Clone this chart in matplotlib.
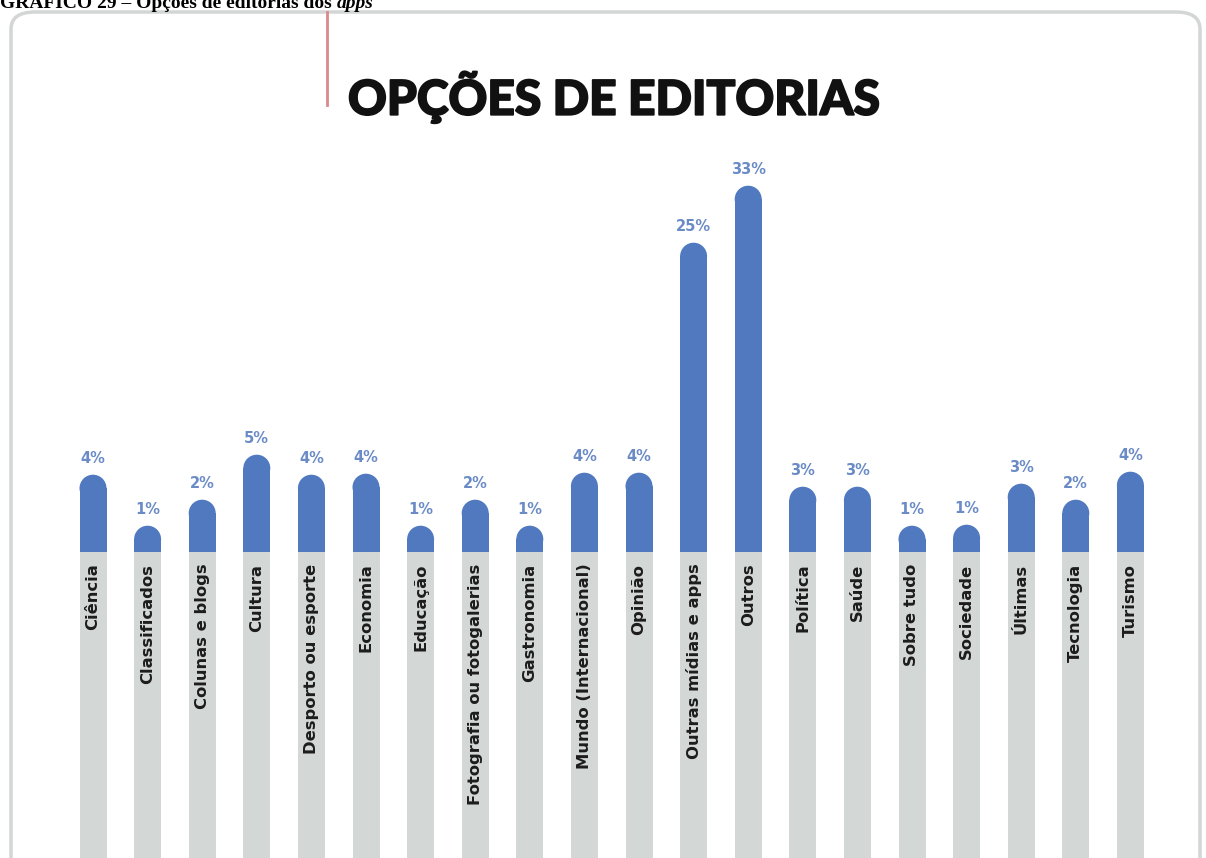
import matplotlib.pyplot as plt
import matplotlib.patheffects as pe
from matplotlib.patches import Ellipse, FancyBboxPatch

# dados
categorias = ['Ciência', 'Classificados', 'Colunas e blogs', 'Cultura',
              'Desporto ou esporte', 'Economia', 'Educação',
              'Fotografia ou fotogalerias', 'Gastronomia',
              'Mundo (Internacional)', 'Opinião', 'Outras mídias e apps',
              'Outros', 'Política', 'Saúde', 'Sobre tudo', 'Sociedade',
              'Últimas', 'Tecnologia', 'Turismo']
percentuais = [4, 1, 2, 5, 4, 4, 1, 2, 1, 4, 4, 25, 33, 3, 3, 1, 1, 3, 2, 4]
# comprimento desenhado de cada barra azul (a escala do infográfico não é linear)
comprimentos = [77, 26, 52, 97, 77, 78, 26, 52, 26, 79, 79, 309, 366,
                65, 65, 26, 27, 68, 52, 80]

azul = '#5179c0'
azul_txt = '#6a8bc6'
cinza = '#d3d8d6'

W, H = 1206, 858
fig = plt.figure(figsize=(W / 100, H / 100), dpi=100)
fig.patch.set_facecolor('white')

# moldura arredondada
moldura = FancyBboxPatch((11 / W, -0.05), 1189 / W, (H - 12) / H + 0.05,
                         boxstyle='round,pad=0,rounding_size=0.02',
                         transform=fig.transFigure, facecolor='none',
                         edgecolor='#d3d6d5', linewidth=2.5, zorder=0)
fig.patches.append(moldura)

# legenda do documento, cortada no topo
leg = fig.text(0, (H - 8) / H, 'GRÁFICO 29 – Opções de editorias dos ',
               family='Liberation Serif', weight='bold', fontsize=14,
               va='baseline', ha='left')
fig.canvas.draw()
bb = leg.get_window_extent()
fig.text(bb.x1 / W, (H - 8) / H, 'apps', family='Liberation Serif',
         weight='bold', style='italic', fontsize=14, va='baseline', ha='left')

# linha vermelha e título
fig.add_artist(plt.Line2D([327 / W, 327 / W], [(H - 105) / H, (H - 12) / H],
                          color='#d98a8a', linewidth=2, transform=fig.transFigure))
fig.text(348 / W, (H - 97) / H, 'OPÇÕES DE EDITORIAS', family='Lato',
         weight='black', fontsize=34.5, va='center', ha='left', color='#111111',
         path_effects=[pe.withStroke(linewidth=1.3, foreground='#111111')])

ax = fig.add_axes([0, 0, 1, 1])
ax.set_facecolor('none')
passo = 54.6
base = 551.7
ax.set_xlim(-93 / passo, (W - 93) / passo)
ax.set_ylim(-(H - base), base)
ax.axis('off')

x = list(range(len(categorias)))
larg = 27 / passo
raio = 13.5

# parte cinza com os nomes
ax.bar(x, [-(H - base) - 10] * len(x), width=larg, color=cinza, zorder=4)
for i, nome in enumerate(categorias):
    ax.text(i, -12, nome, rotation=90, ha='center', va='top',
            family='DejaVu Sans', weight='bold', fontsize=11.8,
            color='#1c1c1c', zorder=5)

# parte azul com topo arredondado
ax.bar(x, [c - raio for c in comprimentos], width=larg, color=azul, zorder=3)
for i, c in enumerate(comprimentos):
    ax.add_patch(Ellipse((i, c - raio), larg, 2 * raio, color=azul, zorder=3,
                         linewidth=0))
    ax.text(i, c + 12, f'{percentuais[i]}%', ha='center', va='baseline',
            family='DejaVu Sans', weight='bold', fontsize=10.5, color=azul_txt)

fig.savefig('out.png', dpi=100)
